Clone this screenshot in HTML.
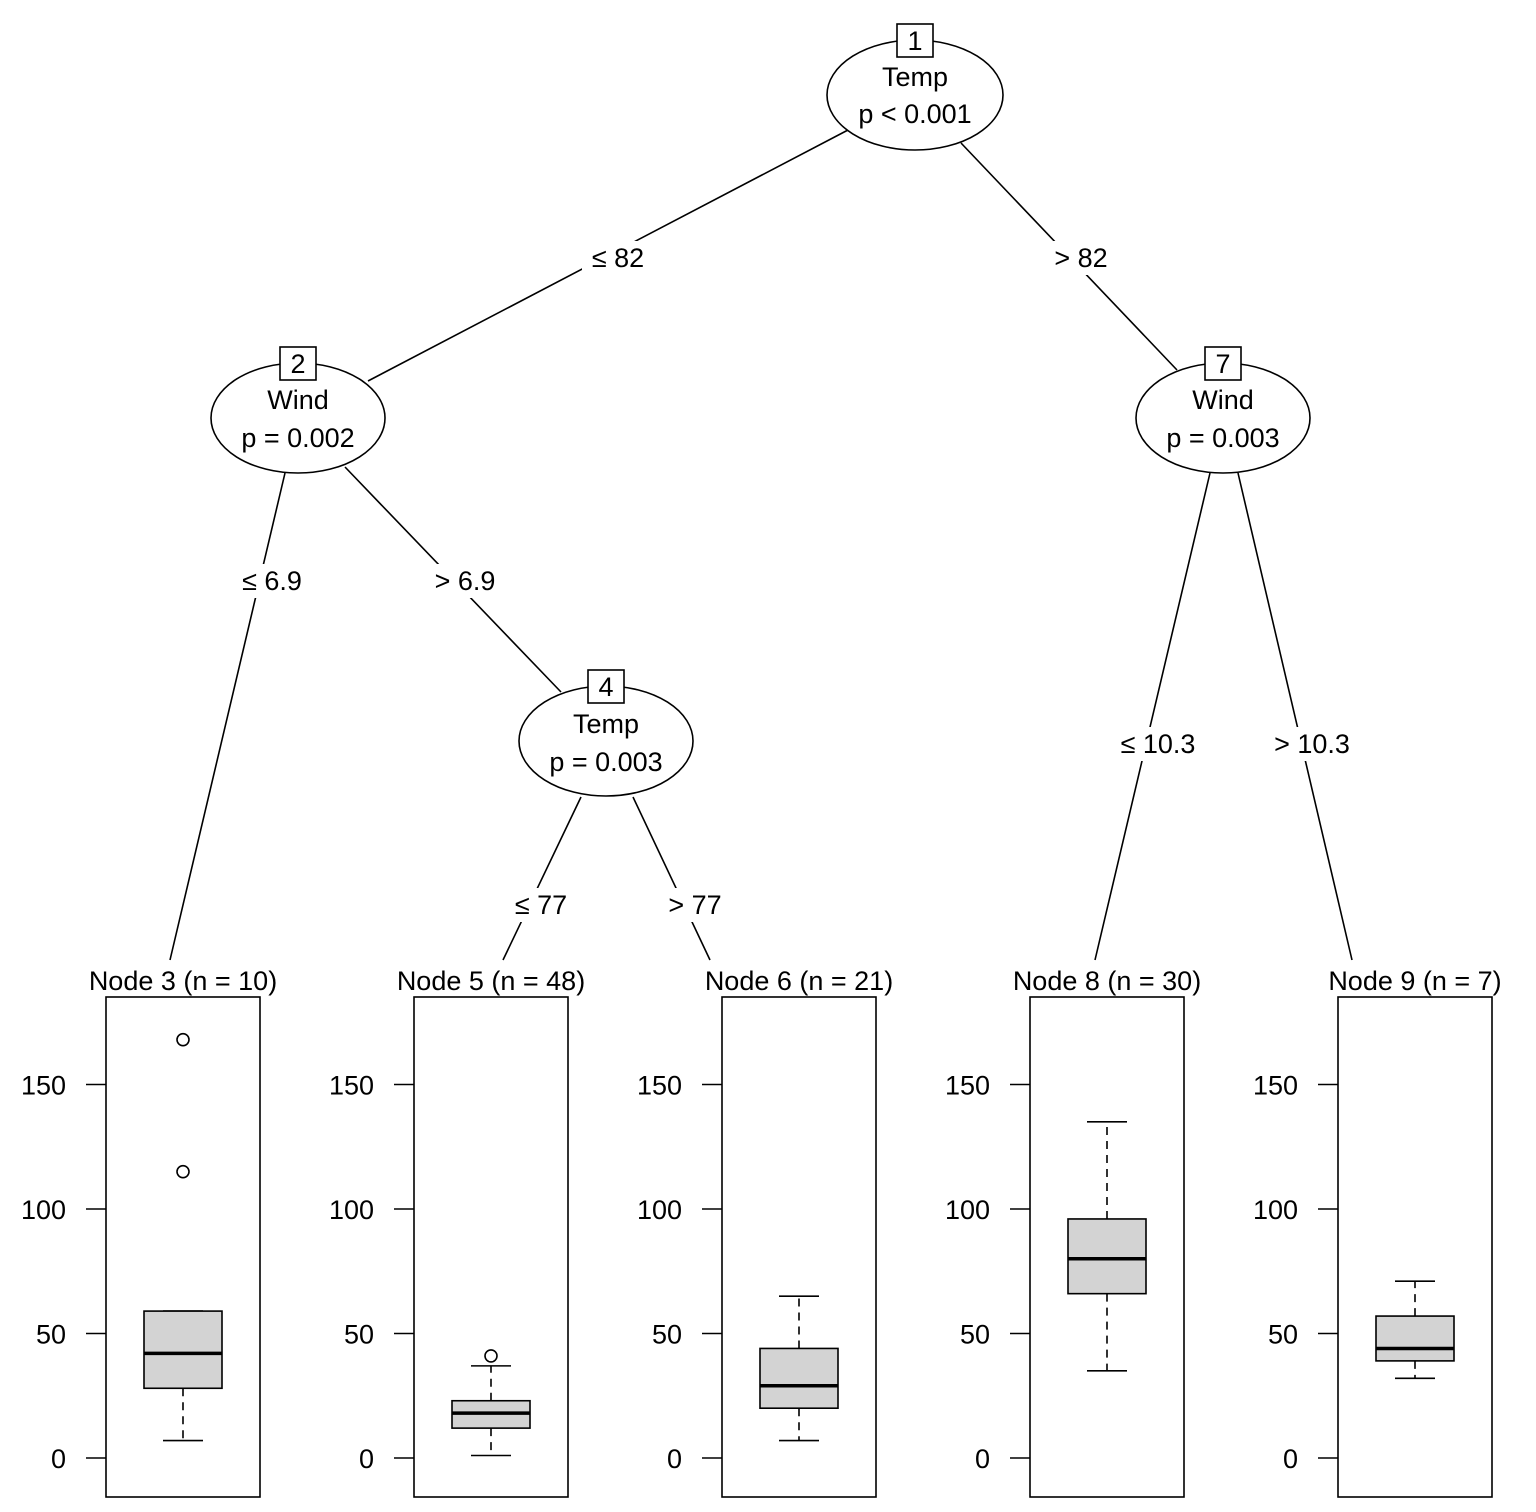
<!DOCTYPE html>
<html><head><meta charset="utf-8"><style>
html,body{margin:0;padding:0;background:#fff;}
svg{display:block;}
text{font-family:"Liberation Sans",sans-serif;font-size:27px;fill:#000;}
</style></head><body>
<svg width="1536" height="1512" viewBox="0 0 1536 1512" xmlns="http://www.w3.org/2000/svg">
<g stroke="#000" stroke-width="1.6" fill="none">
<!-- edges -->
<line x1="848" y1="130" x2="368" y2="381"/>
<line x1="961" y1="143" x2="1177" y2="370"/>
<line x1="285" y1="473" x2="170" y2="960"/>
<line x1="345" y1="467" x2="561" y2="692"/>
<line x1="581" y1="797" x2="503" y2="960"/>
<line x1="633" y1="797" x2="710" y2="960"/>
<line x1="1210" y1="473" x2="1095" y2="960"/>
<line x1="1238" y1="473" x2="1352" y2="960"/>
</g>
<!-- edge labels with white bg -->
<g>
<rect x="582" y="241" width="72" height="34" fill="#fff"/><text x="618" y="267" text-anchor="middle">≤ 82</text>
<rect x="1045" y="241" width="72" height="34" fill="#fff"/><text x="1081" y="267" text-anchor="middle">&gt; 82</text>
<rect x="232" y="564" width="80" height="34" fill="#fff"/><text x="272" y="590" text-anchor="middle">≤ 6.9</text>
<rect x="425" y="564" width="80" height="34" fill="#fff"/><text x="465" y="590" text-anchor="middle">&gt; 6.9</text>
<rect x="505" y="888" width="72" height="34" fill="#fff"/><text x="541" y="914" text-anchor="middle">≤ 77</text>
<rect x="659" y="888" width="72" height="34" fill="#fff"/><text x="695" y="914" text-anchor="middle">&gt; 77</text>
<rect x="1110" y="727" width="96" height="34" fill="#fff"/><text x="1158" y="753" text-anchor="middle">≤ 10.3</text>
<rect x="1264" y="727" width="96" height="34" fill="#fff"/><text x="1312" y="753" text-anchor="middle">&gt; 10.3</text>
</g>
<!-- inner nodes -->
<g stroke="#000" stroke-width="1.6" fill="#fff">
<ellipse cx="915" cy="95" rx="88" ry="55"/>
<ellipse cx="298" cy="418" rx="87" ry="55"/>
<ellipse cx="1223" cy="418" rx="87" ry="55"/>
<ellipse cx="606" cy="741" rx="87" ry="55"/>
<rect x="897" y="24" width="36" height="33"/>
<rect x="280" y="347" width="36" height="33"/>
<rect x="1205" y="347" width="36" height="33"/>
<rect x="588" y="670" width="36" height="33"/>
</g>
<text x="915" y="50" text-anchor="middle">1</text>
<text x="915" y="86" text-anchor="middle">Temp</text>
<text x="915" y="123" text-anchor="middle">p &lt; 0.001</text>
<text x="298" y="373" text-anchor="middle">2</text>
<text x="298" y="409" text-anchor="middle">Wind</text>
<text x="298" y="447" text-anchor="middle">p = 0.002</text>
<text x="1223" y="373" text-anchor="middle">7</text>
<text x="1223" y="409" text-anchor="middle">Wind</text>
<text x="1223" y="447" text-anchor="middle">p = 0.003</text>
<text x="606" y="696" text-anchor="middle">4</text>
<text x="606" y="733" text-anchor="middle">Temp</text>
<text x="606" y="771" text-anchor="middle">p = 0.003</text>
<!-- terminal panels -->
<g id="panels" stroke="#000" stroke-width="1.6" fill="none">
</g>
<script>
(function(){
var ns="http://www.w3.org/2000/svg",svg=document.querySelector('svg');
function el(t,a,txt){var e=document.createElementNS(ns,t);for(var k in a)e.setAttribute(k,a[k]);if(txt!==undefined)e.textContent=txt;svg.appendChild(e);return e;}
function Y(v){return 1458-v*2.49;}
var P=[
{t:"Node 3 (n = 10)",x:106,q1:28,q3:59,m:42,lo:7,hi:59,out:[168,115]},
{t:"Node 5 (n = 48)",x:414,q1:12,q3:23,m:18,lo:1,hi:37,out:[41]},
{t:"Node 6 (n = 21)",x:722,q1:20,q3:44,m:29,lo:7,hi:65,out:[]},
{t:"Node 8 (n = 30)",x:1030,q1:66,q3:96,m:80,lo:35,hi:135,out:[]},
{t:"Node 9 (n = 7)",x:1338,q1:39,q3:57,m:44,lo:32,hi:71,out:[]}];
P.forEach(function(p){
 var cx=p.x+77;
 el('text',{x:cx,y:990,'text-anchor':'middle'},p.t);
 el('rect',{x:p.x,y:997,width:154,height:500,fill:'none',stroke:'#000','stroke-width':1.6});
 [0,50,100,150].forEach(function(v){
  el('line',{x1:p.x-20,y1:Y(v),x2:p.x,y2:Y(v),stroke:'#000','stroke-width':1.6});
  el('text',{x:p.x-40,y:Y(v)+10,'text-anchor':'end'},String(v));
 });
 var s={stroke:'#000','stroke-width':1.6};
 el('line',{x1:cx,y1:Y(p.q1),x2:cx,y2:Y(p.lo),stroke:'#000','stroke-width':1.6,'stroke-dasharray':'8,6'});
 el('line',{x1:cx,y1:Y(p.q3),x2:cx,y2:Y(p.hi),stroke:'#000','stroke-width':1.6,'stroke-dasharray':'8,6'});
 el('line',{x1:cx-20,y1:Y(p.lo),x2:cx+20,y2:Y(p.lo),stroke:'#000','stroke-width':1.6});
 el('line',{x1:cx-20,y1:Y(p.hi),x2:cx+20,y2:Y(p.hi),stroke:'#000','stroke-width':1.6});
 el('rect',{x:cx-39,y:Y(p.q3),width:78,height:Y(p.q1)-Y(p.q3),fill:'#d3d3d3',stroke:'#000','stroke-width':1.6});
 el('line',{x1:cx-39,y1:Y(p.m),x2:cx+39,y2:Y(p.m),stroke:'#000','stroke-width':3.5});
 p.out.forEach(function(o){el('circle',{cx:cx,cy:Y(o),r:6,fill:'none',stroke:'#000','stroke-width':1.6});});
});
})();
</script>
</svg>
</body></html>
